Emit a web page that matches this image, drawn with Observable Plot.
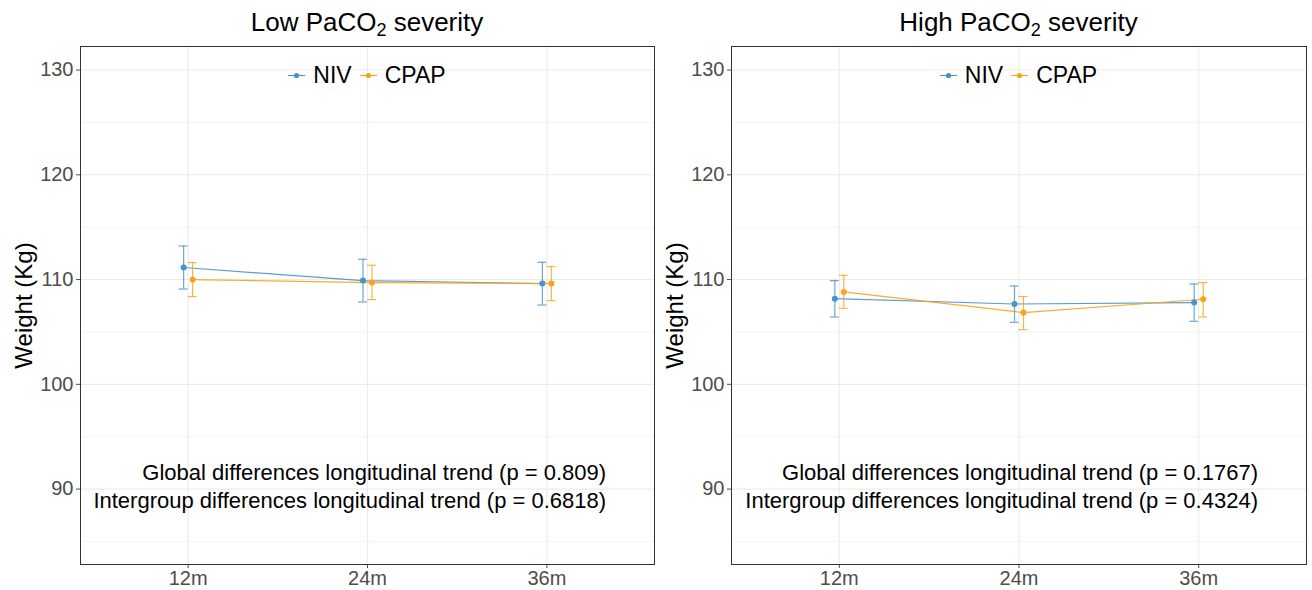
<!DOCTYPE html>
<html>
<head>
<meta charset="utf-8">
<script src="https://cdn.jsdelivr.net/npm/d3@7"></script>
<script src="https://cdn.jsdelivr.net/npm/@observablehq/plot@0.6"></script>
<style>
  html, body { margin: 0; padding: 0; background: #fff; }
  body { font-family: "Liberation Sans", Arial, sans-serif; }
  #wrap { position: relative; width: 1312px; height: 590px; overflow: hidden; }
  .panel { position: absolute; top: 0; width: 656px; height: 590px; }
  .title { position: absolute; top: 8px; font-size: 26px; line-height: 28px; text-align: center; color: #000; white-space: nowrap; }
  .title sub { font-size: 18px; vertical-align: -5px; line-height: 0; }
  .legend { position: absolute; top: 62px; height: 26px; display: flex; justify-content: center; align-items: center; font-size: 23px; line-height: 26px; color: #000; }
  .legend .item { display: flex; align-items: center; }
  .legend .item + .item { margin-left: 8px; }
  .legend svg { margin-right: 8px; }
  .panel svg.plot { position: absolute; top: 40px; left: 0; }
</style>
</head>
<body>
<div id="wrap"></div>
<script>
// ---- data ----
const timepoints = ["12m", "24m", "36m"];
const groups = ["NIV", "CPAP"];
const groupColors = ["#4A92C8", "#F8A31B"];
const yMajor = [90, 100, 110, 120, 130];
const yMinor = [85, 95, 105, 115, 125];

// Low PaCO2 severity
const lowNIVMean  = [111.15, 109.90, 109.62];
const lowNIVLow   = [109.10, 107.86, 107.57];
const lowNIVHigh  = [113.21, 111.94, 111.65];
const lowCPAPMean = [110.00, 109.71, 109.62];
const lowCPAPLow  = [108.38, 108.09, 107.99];
const lowCPAPHigh = [111.62, 111.37, 111.24];
const lowNotes = ["Global differences longitudinal trend (p = 0.809)",
                  "Intergroup differences longitudinal trend (p = 0.6818)"];

// High PaCO2 severity
const highNIVMean  = [108.18, 107.67, 107.80];
const highNIVLow   = [106.43, 105.92, 106.02];
const highNIVHigh  = [109.90, 109.39, 109.58];
const highCPAPMean = [108.82, 106.85, 108.12];
const highCPAPLow  = [107.26, 105.22, 106.43];
const highCPAPHigh = [110.41, 108.38, 109.71];
const highNotes = ["Global differences longitudinal trend (p = 0.1767)",
                   "Intergroup differences longitudinal trend (p = 0.4324)"];

// ---- build tidy rows ----
function rows(nivM, nivL, nivH, cpM, cpL, cpH) {
  const out = [];
  timepoints.forEach((t, i) => {
    out.push({time: t, idx: i + 1, group: "NIV", mean: nivM[i], lo: nivL[i], hi: nivH[i]});
    out.push({time: t, idx: i + 1, group: "CPAP", mean: cpM[i], lo: cpL[i], hi: cpH[i]});
  });
  return out;
}
const lowData = rows(lowNIVMean, lowNIVLow, lowNIVHigh, lowCPAPMean, lowCPAPLow, lowCPAPHigh);
const highData = rows(highNIVMean, highNIVLow, highNIVHigh, highCPAPMean, highCPAPLow, highCPAPHigh);

const dodge = 0.025;  // position_dodge half width
const capHalf = 0.025; // errorbar cap half width
const xd = d => d.idx + (d.group === "NIV" ? -dodge : dodge);

function makePlot(data, notes, ml, mr) {
  return Plot.plot({
    width: 656,
    height: 550,
    marginTop: 6,
    marginBottom: 26,
    marginLeft: ml,
    marginRight: mr,
    style: {fontFamily: '"Liberation Sans", Arial, sans-serif', fontSize: "20px", color: "#4D4D4D", background: "transparent", overflow: "visible"},
    x: {domain: [0.4, 3.6]},
    y: {domain: [82.8, 132.25]},
    color: {domain: groups, range: groupColors},
    marks: [
      Plot.ruleY(yMinor, {stroke: "#EEEEEE", strokeWidth: 0.6}),
      Plot.ruleY(yMajor, {stroke: "#EBEBEB", strokeWidth: 1.1}),
      Plot.ruleX([1, 2, 3], {stroke: "#EBEBEB", strokeWidth: 1.1}),
      Plot.axisY({ticks: yMajor, tickSize: 4, tickPadding: 3, fontSize: 20, label: null}),
      Plot.axisX({ticks: [1, 2, 3], tickFormat: d => timepoints[d - 1], tickSize: 4, tickPadding: 2, fontSize: 20, label: null}),
      Plot.text(["Weight (Kg)"], {frameAnchor: "left", dx: -56, rotate: -90, textAnchor: "middle", lineAnchor: "middle", fontSize: 24, fill: "#000"}),
      Plot.line(data, {x: xd, y: "mean", z: "group", stroke: "group", strokeWidth: 1.15, strokeOpacity: 0.9}),
      Plot.ruleX(data, {x: xd, y1: "lo", y2: "hi", stroke: "group", strokeWidth: 1.2, strokeOpacity: 0.8}),
      Plot.ruleY(data, {y: "lo", x1: d => xd(d) - capHalf, x2: d => xd(d) + capHalf, stroke: "group", strokeWidth: 1.2, strokeOpacity: 0.8}),
      Plot.ruleY(data, {y: "hi", x1: d => xd(d) - capHalf, x2: d => xd(d) + capHalf, stroke: "group", strokeWidth: 1.2, strokeOpacity: 0.8}),
      Plot.dot(data, {x: xd, y: "mean", fill: "group", r: 3}),
      Plot.text([notes.join("\n")], {x: 3.33, y: 90.42, textAnchor: "end", lineAnchor: "middle", lineHeight: 1.3, fontSize: 22, fill: "#000"}),
      Plot.frame({stroke: "#333333", strokeWidth: 1})
    ]
  });
}

function legendHTML() {
  const leg = document.createElement("div");
  leg.className = "legend";
  groups.forEach((g, i) => {
    const item = document.createElement("div");
    item.className = "item";
    item.innerHTML = `<svg width="17" height="26"><line x1="0" x2="17" y1="13.5" y2="13.5" stroke="${groupColors[i]}" stroke-width="1.1"/><circle cx="8.5" cy="13.5" r="2.6" fill="${groupColors[i]}"/></svg><span>${g}</span>`;
    leg.appendChild(item);
  });
  return leg;
}

function addPanel(left, titleHTML, data, notes, ml, mr) {
  const p = document.createElement("div");
  p.className = "panel";
  p.style.left = left + "px";
  const svg = makePlot(data, notes, ml, mr);
  svg.classList.add("plot");
  p.appendChild(svg);
  const t = document.createElement("div");
  t.className = "title";
  t.style.left = ml + "px";
  t.style.width = (656 - ml - mr) + "px";
  t.innerHTML = titleHTML;
  p.appendChild(t);
  const leg = legendHTML();
  leg.style.left = ml + "px";
  leg.style.width = (656 - ml - mr) + "px";
  p.appendChild(leg);
  document.getElementById("wrap").appendChild(p);
}

addPanel(0, "Low PaCO<sub>2</sub> severity", lowData, lowNotes, 80, 2);
addPanel(656, "High PaCO<sub>2</sub> severity", highData, highNotes, 75, 6);
</script>
</body>
</html>
